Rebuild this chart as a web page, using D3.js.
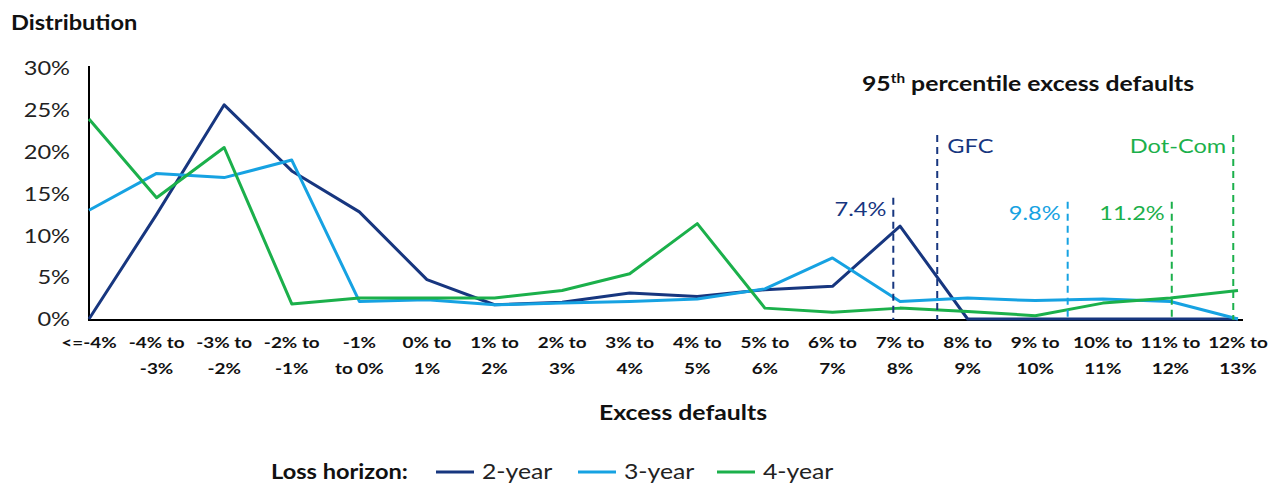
<!DOCTYPE html>
<html>
<head>
<meta charset="utf-8">
<script src="https://cdn.jsdelivr.net/npm/d3@7"></script>
<style>
  body { margin: 0; background: #fff; }
  text { font-family: Lato, "Open Sans", sans-serif; }
</style>
</head>
<body>
<div id="container"></div>
<script>
// Chart data
const categories = ["<=-4%", "-4% to|-3%", "-3% to|-2%", "-2% to|-1%", "-1%|to 0%", "0% to|1%",
  "1% to|2%", "2% to|3%", "3% to|4%", "4% to|5%", "5% to|6%", "6% to|7%", "7% to|8%",
  "8% to|9%", "9% to|10%", "10% to|11%", "11% to|12%", "12% to|13%"];
const year2 = [0, 12.5, 25.6, 17.7, 12.8, 4.7, 1.7, 2.0, 3.1, 2.7, 3.5, 3.9, 11.1, 0, 0, 0, 0, 0];
const year3 = [13.0, 17.4, 16.9, 19.0, 2.1, 2.3, 1.7, 1.9, 2.1, 2.4, 3.6, 7.3, 2.1, 2.5, 2.2, 2.4, 2.1, 0];
const year4 = [23.9, 14.5, 20.5, 1.8, 2.5, 2.5, 2.5, 3.4, 5.4, 11.4, 1.3, 0.8, 1.3, 0.9, 0.4, 1.9, 2.5, 3.4];
const yTicks = [0, 5, 10, 15, 20, 25, 30];

// 95th percentile markers: position in category units, top in %
const markers = [
  { label: "7.4%", pos: 11.9, top: 14.5, series: 0, side: "left" },
  { label: "GFC", pos: 12.55, top: 22, series: 0, side: "right" },
  { label: "9.8%", pos: 14.48, top: 14, series: 1, side: "left" },
  { label: "11.2%", pos: 16.02, top: 14, series: 2, side: "left" },
  { label: "Dot-Com", pos: 16.93, top: 22, series: 2, side: "left" }
];

const seriesNames = ["2-year", "3-year", "4-year"];
const colors = ["#17367f", "#16a2e2", "#1bb04b"];

const width = 1275, height = 485;
const SX = 1.18; // the source text is drawn a bit wide

const svg = d3.select("#container").append("svg")
  .attr("width", width)
  .attr("height", height);

// put a text at x,y with the horizontal stretch
function place(sel, px, py) {
  return sel.attr("transform", "translate(" + px + "," + py + ") scale(" + SX + ",1)");
}

const x = d3.scalePoint().domain(d3.range(categories.length)).range([89, 1238]);
const xPos = d3.scaleLinear().domain([0, categories.length - 1]).range([89, 1238]);
const y = d3.scaleLinear().domain([0, 30]).range([319, 68]);

// Y axis labels
svg.append("g")
  .selectAll("text")
  .data(yTicks)
  .join("text")
  .attr("transform", d => "translate(70," + y(d) + ") scale(" + SX + ",1)")
  .attr("dy", "0.36em")
  .attr("text-anchor", "end")
  .attr("font-size", 20)
  .attr("fill", "#222")
  .text(d => d + "%");

// Axis lines
svg.append("line")
  .attr("x1", 89).attr("x2", 89)
  .attr("y1", 66).attr("y2", 320)
  .attr("stroke", "#000").attr("stroke-width", 2);
svg.append("line")
  .attr("x1", 88).attr("x2", 1243)
  .attr("y1", 320).attr("y2", 320)
  .attr("stroke", "#000").attr("stroke-width", 2);

// X category labels (two lines)
const xl = svg.append("g")
  .selectAll("text")
  .data(categories)
  .join("text")
  .attr("transform", (d, i) => "translate(" + x(i) + ",348) scale(" + SX + ",1)")
  .attr("text-anchor", "middle")
  .attr("font-size", 16)
  .attr("font-weight", "bold")
  .attr("fill", "#111");
xl.each(function (d) {
  d3.select(this).selectAll("tspan")
    .data(d.split("|"))
    .join("tspan")
    .attr("x", 0)
    .attr("y", (p, j) => j * 26)
    .text(p => p);
});

// Lines
const line = d3.line()
  .x((d, i) => x(i))
  .y(d => y(d));

[year2, year3, year4].forEach((s, k) => {
  svg.append("path")
    .datum(s)
    .attr("fill", "none")
    .attr("stroke", colors[k])
    .attr("stroke-width", 3)
    .attr("stroke-linejoin", "round")
    .attr("d", line);
});

// Percentile markers
markers.forEach(m => {
  const mx = xPos(m.pos);
  svg.append("line")
    .attr("x1", mx).attr("x2", mx)
    .attr("y1", y(m.top)).attr("y2", 320)
    .attr("stroke", colors[m.series])
    .attr("stroke-width", 2)
    .attr("stroke-dasharray", "7,5");
  place(svg.append("text"), m.side === "left" ? mx - 7 : mx + 10, y(m.top) + 11)
    .attr("dy", "0.36em")
    .attr("text-anchor", m.side === "left" ? "end" : "start")
    .attr("font-size", 20)
    .attr("fill", colors[m.series])
    .text(m.label);
});

// Titles
place(svg.append("text"), 11, 30)
  .attr("font-size", 20).attr("font-weight", "bold").attr("fill", "#111")
  .text("Distribution");

const t = place(svg.append("text"), 862, 91)
  .attr("font-size", 21).attr("font-weight", "bold").attr("fill", "#111");
t.append("tspan").text("95");
t.append("tspan").attr("font-size", 13).attr("dy", -8).text("th");
t.append("tspan").attr("dy", 8).text(" percentile excess defaults");

place(svg.append("text"), 683, 420)
  .attr("text-anchor", "middle")
  .attr("font-size", 21).attr("font-weight", "bold").attr("fill", "#111")
  .text("Excess defaults");

// Legend
const legend = svg.append("g");
place(legend.append("text"), 271, 479)
  .attr("font-size", 20).attr("font-weight", "bold").attr("fill", "#111")
  .text("Loss horizon:");
const legX = [436, 578, 717];
seriesNames.forEach((n, k) => {
  legend.append("line")
    .attr("x1", legX[k]).attr("x2", legX[k] + 38)
    .attr("y1", 472).attr("y2", 472)
    .attr("stroke", colors[k]).attr("stroke-width", 3);
  place(legend.append("text"), legX[k] + 46, 479)
    .attr("font-size", 21).attr("fill", "#222")
    .text(n);
});
</script>
</body>
</html>
